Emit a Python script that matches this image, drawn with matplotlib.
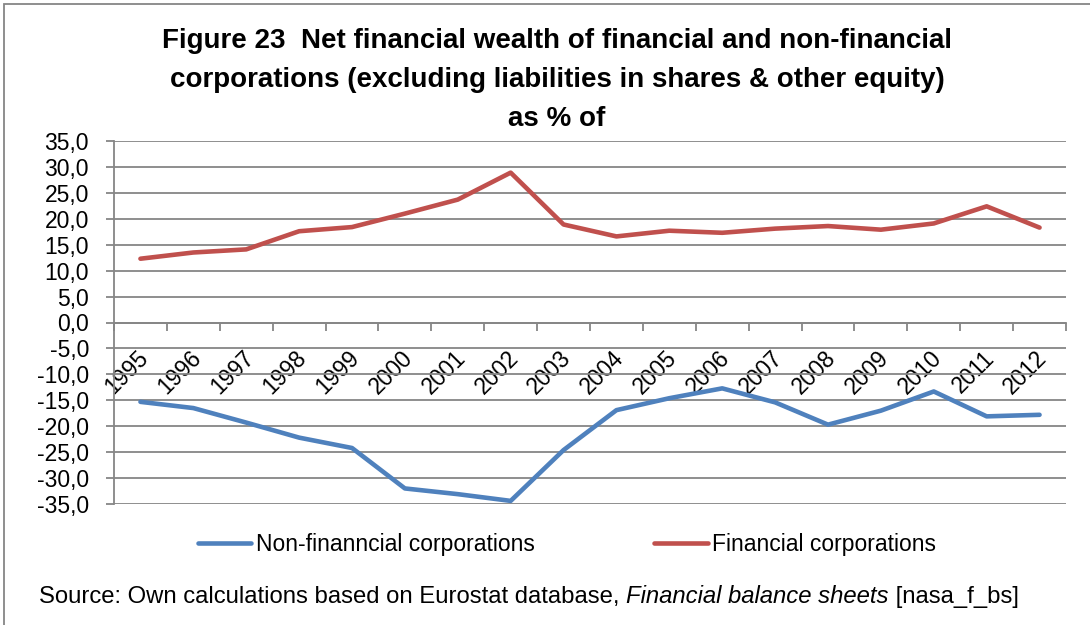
import numpy as np
import matplotlib.pyplot as plt
from matplotlib.patches import Rectangle
from matplotlib.ticker import FuncFormatter, FixedLocator
import matplotlib.transforms as mtransforms

# Data
years = ['1995', '1996', '1997', '1998', '1999', '2000', '2001', '2002', '2003',
         '2004', '2005', '2006', '2007', '2008', '2009', '2010', '2011', '2012']
non_financial = [-15.3, -16.5, -19.3, -22.2, -24.2, -32.0, -33.1, -34.4, -24.6,
                 -16.9, -14.6, -12.7, -15.4, -19.7, -17.0, -13.3, -18.1, -17.8]
financial = [12.3, 13.5, 14.1, 17.6, 18.4, 21.0, 23.7, 28.9, 18.9,
             16.6, 17.7, 17.3, 18.1, 18.6, 17.9, 19.1, 22.4, 18.3]

title_lines = ['Figure 23  Net financial wealth of financial and non-financial',
               'corporations (excluding liabilities in shares & other equity)',
               'as % of']

plt.rcParams['font.family'] = ['Liberation Sans', 'DejaVu Sans']
W, H = 1090, 625
fig = plt.figure(figsize=(W / 100, H / 100), dpi=100)
ax = fig.add_axes([114 / W, 1 - 504 / H, (1066 - 114) / W, (504 - 141) / H])

grey = '#868686'
x = np.arange(len(years))
ax.plot(x, non_financial, color='#4F81BD', lw=3.3, solid_capstyle='round',
        solid_joinstyle='round', label='Non-finanncial corporations', zorder=3)
ax.plot(x, financial, color='#C0504D', lw=3.3, solid_capstyle='round',
        solid_joinstyle='round', label='Financial corporations', zorder=3)

ax.set_xlim(-0.5, len(years) - 0.5)
ax.set_ylim(-35, 35)
ax.set_yticks(np.arange(-35, 36, 5))
ax.yaxis.set_major_formatter(FuncFormatter(lambda v, p: f'{v:.1f}'.replace('.', ',')))
ax.grid(axis='y', color=grey, lw=1.3)
ax.set_axisbelow(True)

for s in ['top', 'right']:
    ax.spines[s].set_visible(False)
ax.spines['left'].set_color(grey)
ax.spines['left'].set_linewidth(1.3)
ax.spines['bottom'].set_position(('data', 0))
ax.spines['bottom'].set_color(grey)
ax.spines['bottom'].set_linewidth(1.3)

ax.tick_params(axis='y', length=6, width=1.3, color=grey, pad=12, labelsize=16.5)
# category boundaries get the tick marks, centers get the labels
ax.xaxis.set_minor_locator(FixedLocator(np.arange(-0.5, len(years), 1)))
ax.tick_params(axis='x', which='minor', length=6, width=1.3, color=grey)
ax.set_xticks(x)
ax.set_xticklabels(years, rotation=45, ha='right', va='center',
                   rotation_mode='anchor', fontsize=16.5)
ax.tick_params(axis='x', which='major', length=0, pad=23)
offset = mtransforms.ScaledTranslation(4 / 100, 0, fig.dpi_scale_trans)
for lab in ax.get_xticklabels():
    lab.set_transform(lab.get_transform() + offset)

# Title
for i, line in enumerate(title_lines):
    fig.text(557 / W, 1 - (48 + 39 * i) / H, line, ha='center', va='baseline',
             fontsize=20, fontweight='bold',
             family=['Liberation Sans Narrow', 'Liberation Sans'])

# Legend
fig.legend(loc='center', bbox_to_anchor=(567 / W, 1 - 545 / H), ncol=2,
           frameon=False, fontsize=16.5, handlelength=2.35, handletextpad=0.2,
           columnspacing=5.2)

# Source line with italic part
fig.canvas.draw()
renderer = fig.canvas.get_renderer()
parts = [('Source: Own calculations based on Eurostat database, ', 'normal'),
         ('Financial balance sheets', 'italic'),
         (' [nasa_f_bs]', 'normal')]
xpos = 39
for txt, style in parts:
    t = fig.text(xpos / W, 1 - 603 / H, txt, ha='left', va='baseline',
                 fontsize=17.2, style=style)
    bb = t.get_window_extent(renderer)
    xpos = bb.x1

# Outer frame (only left and top edges are visible in the crop)
fig.patches.append(Rectangle((4 / W, -0.1), 1.2, 1 - 4 / H + 0.1,
                             transform=fig.transFigure, fill=False,
                             edgecolor=grey, lw=1.3))

fig.savefig('out.png', dpi=100)
